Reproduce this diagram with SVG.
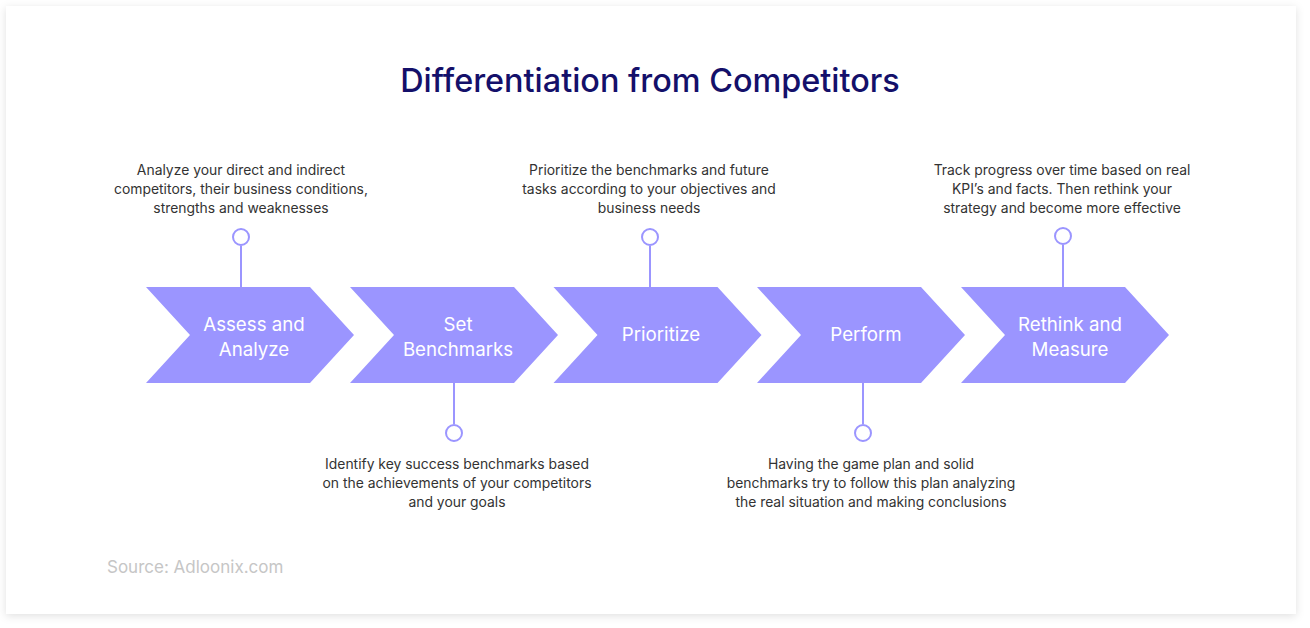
<svg xmlns="http://www.w3.org/2000/svg" width="1310" height="628" viewBox="0 0 1310 628">
<defs>
<filter id="sh" x="-5%" y="-5%" width="110%" height="115%">
<feDropShadow dx="0" dy="2" stdDeviation="4" flood-color="#000" flood-opacity="0.12"/>
</filter>
<path id="chev" d="M0,0 H164 L208,48 L164,96 H0 L44,48 Z"/>
</defs>
<style>
.chev{fill:#9b95ff}
.lbl{font-family:Inter,"Liberation Sans",sans-serif;font-size:18.7px;fill:#fff;text-anchor:middle}
.desc{font-family:Inter,"Liberation Sans",sans-serif;font-size:13.9px;fill:#333;text-anchor:middle}
.ln{stroke:#9b95ff;stroke-width:2;fill:none}
.dot{stroke:#9b95ff;stroke-width:2;fill:#fff}
</style>
<rect x="0" y="0" width="1310" height="628" fill="#fff"/>
<rect x="6" y="6" width="1290" height="608" fill="#fff" filter="url(#sh)"/>
<text x="650" y="92" font-family="Inter,'Liberation Sans',sans-serif" font-size="32.4" font-weight="500" fill="#14106a" text-anchor="middle">Differentiation from Competitors</text>

<g id="connectors">
<line class="ln" x1="241" y1="246" x2="241" y2="287"/>
<circle class="dot" cx="241" cy="237" r="8"/>
<line class="ln" x1="454" y1="383" x2="454" y2="424"/>
<circle class="dot" cx="454" cy="433" r="8"/>
<line class="ln" x1="650" y1="246" x2="650" y2="287"/>
<circle class="dot" cx="650" cy="237" r="8"/>
<line class="ln" x1="863" y1="383" x2="863" y2="424"/>
<circle class="dot" cx="863" cy="433" r="8"/>
<line class="ln" x1="1063" y1="245" x2="1063" y2="287"/>
<circle class="dot" cx="1063" cy="236" r="8"/>
</g>

<g id="step1">
<use href="#chev" class="chev" x="146" y="287"/>
<text class="lbl" x="254" y="331">Assess and</text>
<text class="lbl" x="254" y="356">Analyze</text>
<text class="desc" x="241" y="175">Analyze your direct and indirect</text>
<text class="desc" x="241" y="194">competitors, their business conditions,</text>
<text class="desc" x="241" y="213">strengths and weaknesses</text>
</g>
<g id="step2">
<use href="#chev" class="chev" x="350" y="287"/>
<text class="lbl" x="458" y="331">Set</text>
<text class="lbl" x="458" y="356">Benchmarks</text>
<text class="desc" x="457" y="469">Identify key success benchmarks based</text>
<text class="desc" x="457" y="488">on the achievements of your competitors</text>
<text class="desc" x="457" y="507">and your goals</text>
</g>
<g id="step3">
<use href="#chev" class="chev" x="553.5" y="287"/>
<text class="lbl" x="661" y="341">Prioritize</text>
<text class="desc" x="649" y="175">Prioritize the benchmarks and future</text>
<text class="desc" x="649" y="194">tasks according to your objectives and</text>
<text class="desc" x="649" y="213">business needs</text>
</g>
<g id="step4">
<use href="#chev" class="chev" x="757" y="287"/>
<text class="lbl" x="866" y="341">Perform</text>
<text class="desc" x="871" y="469">Having the game plan and solid</text>
<text class="desc" x="871" y="488">benchmarks try to follow this plan analyzing</text>
<text class="desc" x="871" y="507">the real situation and making conclusions</text>
</g>
<g id="step5">
<use href="#chev" class="chev" x="961" y="287"/>
<text class="lbl" x="1070" y="331">Rethink and</text>
<text class="lbl" x="1070" y="356">Measure</text>
<text class="desc" x="1062" y="175">Track progress over time based on real</text>
<text class="desc" x="1062" y="194">KPI’s and facts. Then rethink your</text>
<text class="desc" x="1062" y="213">strategy and become more effective</text>
</g>
<text x="107" y="573" font-family="Inter,'Liberation Sans',sans-serif" font-size="17" fill="#c6c6c6">Source: Adloonix.com</text>
</svg>
